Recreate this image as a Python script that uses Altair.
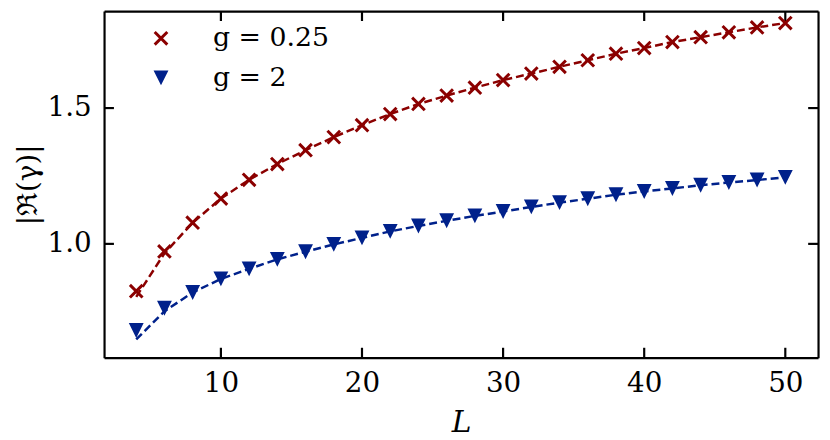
import altair as alt
import pandas as pd

# ---- data ----
L = [4, 6, 8, 10, 12, 14, 16, 18, 20, 22, 24, 26, 28, 30, 32, 34, 36, 38, 40, 42, 44, 46, 48, 50]
red = [0.826, 0.972, 1.078, 1.167, 1.236, 1.294, 1.345, 1.393, 1.437, 1.478, 1.515, 1.546,
       1.575, 1.603, 1.627, 1.652, 1.676, 1.700, 1.721, 1.743, 1.761, 1.779, 1.797, 1.813]
blue = [0.681, 0.763, 0.821, 0.871, 0.908, 0.943, 0.971, 0.998, 1.022, 1.046, 1.066, 1.085,
        1.103, 1.119, 1.136, 1.152, 1.166, 1.181, 1.193, 1.204, 1.216, 1.226, 1.235, 1.245]
fit_red = [0.805, 0.965, 1.078, 1.167, 1.236, 1.294, 1.345, 1.393, 1.437, 1.478, 1.515, 1.546,
           1.575, 1.603, 1.627, 1.652, 1.676, 1.700, 1.721, 1.743, 1.761, 1.779, 1.797, 1.813]
fit_blue = [0.648, 0.752, 0.821, 0.871, 0.908, 0.943, 0.971, 0.998, 1.022, 1.046, 1.066, 1.085,
            1.103, 1.119, 1.136, 1.152, 1.166, 1.181, 1.193, 1.204, 1.216, 1.226, 1.235, 1.245]
labels = ["g = 0.25", "g = 2"]
colors = ["#8b0000", "#00218b"]
x_ticks = [10, 20, 30, 40, 50]
y_ticks = [1.0, 1.5]

pts = pd.DataFrame({
    "L": L + L,
    "v": red + blue,
    "s": [labels[0]] * len(L) + [labels[1]] * len(L),
})
fr = pd.DataFrame({"L": L, "v": fit_red})
fb = pd.DataFrame({"L": L, "v": fit_blue})
xt = pd.DataFrame({"t": x_ticks})
yt = pd.DataFrame({"t": y_ticks})

W, H = 721, 350
FONT = "DejaVu Serif"
X_PATH = "M-0.85,-0.85L0.85,0.85M0.85,-0.85L-0.85,0.85"
TRI_PATH = "M-0.676,-0.8L0.676,-0.8L0,0.553Z"

xs = alt.Scale(domain=[1.72, 52.32], nice=False, zero=False)
ys = alt.Scale(domain=[0.581, 1.857], nice=False, zero=False)

common = dict(ticks=False, tickSize=0, domain=True, domainColor="black",
              domainWidth=2.2, grid=False)

x_bottom = alt.Axis(orient="bottom", values=x_ticks, labelFont=FONT, labelFontSize=28,
                    labelColor="black", labelPadding=12, title="L", titleFont=FONT,
                    titleFontSize=30, titleFontStyle="italic", titleFontWeight="normal",
                    titleColor="black", titlePadding=11, **common)
x_topax = alt.Axis(orient="top", values=x_ticks, labels=False, title=None, **common)
y_leftax = alt.Axis(orient="left", values=y_ticks, format=".1f", labelFont=FONT,
                    labelFontSize=28, labelColor="black", labelPadding=13,
                    title="|ℜ(γ)|", titleFont=FONT, titleFontSize=28,
                    titleFontWeight="normal", titleColor="black", titlePadding=5, **common)
y_rightax = alt.Axis(orient="right", values=y_ticks, labels=False, title=None, **common)

line_red = alt.Chart(fr).mark_line(color=colors[0], strokeDash=[8, 4], strokeWidth=2.5).encode(
    x=alt.X("L:Q", scale=xs, axis=x_bottom),
    y=alt.Y("v:Q", scale=ys, axis=y_leftax),
)
line_blue = alt.Chart(fb).mark_line(color=colors[1], strokeDash=[8, 4], strokeWidth=2.5).encode(
    x=alt.X("L:Q", scale=xs, axis=x_topax),
    y=alt.Y("v:Q", scale=ys, axis=y_rightax),
)

# tick marks: the tick position comes from the shared scale; the other end
# of each tick is given in data units through a calculated field
ticks_bottom = alt.Chart(xt).transform_calculate(a="0.581", b="0.6175").mark_rule(
    color="black", strokeWidth=2.2).encode(
    x=alt.X("t:Q", scale=xs, axis=None),
    y=alt.Y("a:Q", scale=ys, axis=None), y2="b:Q")
ticks_top = alt.Chart(xt).transform_calculate(a="1.857", b="1.8205").mark_rule(
    color="black", strokeWidth=2.2).encode(
    x=alt.X("t:Q", scale=xs, axis=None),
    y=alt.Y("a:Q", scale=ys, axis=None), y2="b:Q")
ticks_left = alt.Chart(yt).transform_calculate(a="1.72", b="2.42").mark_rule(
    color="black", strokeWidth=2.2).encode(
    y=alt.Y("t:Q", scale=ys, axis=None),
    x=alt.X("a:Q", scale=xs, axis=None), x2="b:Q")
ticks_right = alt.Chart(yt).transform_calculate(a="52.32", b="51.62").mark_rule(
    color="black", strokeWidth=2.2).encode(
    y=alt.Y("t:Q", scale=ys, axis=None),
    x=alt.X("a:Q", scale=xs, axis=None), x2="b:Q")

cscale = alt.Scale(domain=labels, range=colors)
points = alt.Chart(pts).mark_point(filled=True, size=225, strokeWidth=3, opacity=1).encode(
    x=alt.X("L:Q", scale=xs, axis=None),
    y=alt.Y("v:Q", scale=ys, axis=None),
    color=alt.Color("s:N", scale=cscale, legend=alt.Legend(title=None)),
    stroke=alt.Stroke("s:N", scale=cscale, legend=alt.Legend(title=None)),
    shape=alt.Shape("s:N", scale=alt.Scale(domain=labels, range=[X_PATH, TRI_PATH]),
                    legend=alt.Legend(title=None)),
)

chart = alt.layer(
    line_red, line_blue, ticks_bottom, ticks_top, ticks_left, ticks_right, points
).resolve_axis(
    x="independent", y="independent"
).properties(
    width=W, height=H,
    autosize=alt.AutoSizeParams(type="none"),
    padding={"left": 97, "top": 1, "right": 4, "bottom": 81},
    background="white",
).configure_view(strokeWidth=0).configure_legend(
    orient="none", legendX=44, legendY=14, padding=0,
    labelFont=FONT, labelFontSize=27, labelColor="black", labelOffset=39,
    symbolSize=225, symbolStrokeWidth=3, rowPadding=12, symbolOpacity=1,
)

chart.save("out.html", embed_options={"renderer": "svg", "actions": False})
